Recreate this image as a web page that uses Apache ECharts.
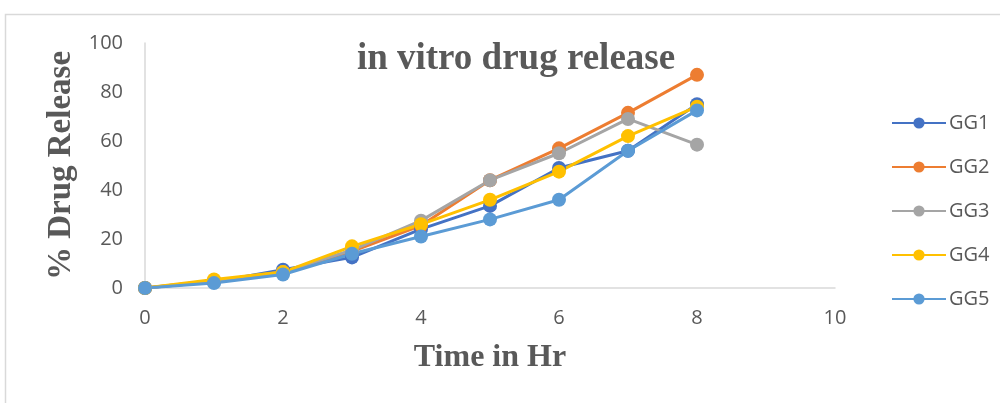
<!DOCTYPE html>
<html>
<head>
<meta charset="utf-8">
<script src="https://cdn.jsdelivr.net/npm/echarts@6/dist/echarts.min.js"></script>
<style>
  html, body { margin: 0; padding: 0; background: #fff; }
  #chart { width: 1000px; height: 403px; }
</style>
</head>
<body>
<div id="chart"></div>
<script>
// Sampling times (hours) and cumulative % release per formulation
const hours = [0, 1, 2, 3, 4, 5, 6, 7, 8];
const GG1 = [0, 2.5, 7.5, 12.5, 24, 33.5, 49, 56, 75];
const GG2 = [0, 3, 6.5, 15, 25.5, 44, 57, 71.5, 87];
const GG3 = [0, 3, 6.5, 15.5, 27.5, 44, 55, 69, 58.5];
const GG4 = [0, 3.5, 6.5, 17, 26, 36, 47.5, 62, 74];
const GG5 = [0, 2, 5.5, 14, 21, 28, 36, 56, 72.5];
const seriesNames = ['GG1', 'GG2', 'GG3', 'GG4', 'GG5'];
const seriesValues = [GG1, GG2, GG3, GG4, GG5];
const colors = ['#4472C4', '#ED7D31', '#A5A5A5', '#FFC000', '#5B9BD5'];

const chart = echarts.init(document.getElementById('chart'));
const textGray = '#595959';
const serif = '"Liberation Serif", "Times New Roman", serif';
const sans = '"Open Sans", "Liberation Sans", sans-serif';

chart.setOption({
  animation: false,
  color: colors,
  title: {
    text: 'in vitro drug release',
    left: 511,
    top: 36,
    textAlign: 'center',
    textStyle: { fontFamily: serif, fontWeight: 'bold', fontSize: 37, color: textGray }
  },
  graphic: [{
    type: 'rect',
    shape: { x: 5.5, y: 14.5, width: 1100, height: 500 },
    style: { fill: 'none', stroke: '#d9d9d9', lineWidth: 1.5 },
    silent: true,
    z: -1
  }],
  legend: {
    orient: 'vertical',
    left: 886,
    top: 106,
    itemGap: 20,
    itemWidth: 54,
    itemHeight: 14,
    textStyle: { fontFamily: sans, fontSize: 20, height: 24, lineHeight: 24, color: textGray, padding: [0, 0, 0, -2] },
    data: seriesNames
  },
  grid: { left: 145, right: 165, top: 43, bottom: 115, containLabel: false },
  xAxis: {
    type: 'value',
    min: 0, max: 10, interval: 2,
    name: 'Time in Hr',
    nameLocation: 'middle',
    nameGap: 54,
    nameTextStyle: { fontFamily: serif, fontWeight: 'bold', fontSize: 32, color: textGray },
    axisLine: { lineStyle: { color: '#d9d9d9', width: 1.5 } },
    axisTick: { show: false },
    splitLine: { show: false },
    axisLabel: { fontFamily: sans, fontSize: 20, color: textGray, margin: 20 }
  },
  yAxis: {
    type: 'value',
    min: 0, max: 100, interval: 20,
    name: '% Drug Release',
    nameLocation: 'middle',
    nameGap: 64,
    nameTextStyle: { fontFamily: serif, fontWeight: 'bold', fontSize: 33, color: textGray },
    axisLine: { show: true, lineStyle: { color: '#d9d9d9', width: 1.5 } },
    axisTick: { show: false },
    splitLine: { show: false },
    axisLabel: { fontFamily: sans, fontSize: 20, color: textGray, margin: 22 }
  },
  series: seriesNames.map((name, i) => ({
    name: name,
    type: 'line',
    data: hours.map((h, j) => [h, seriesValues[i][j]]),
    symbol: 'circle',
    symbolSize: 14,
    lineStyle: { width: 3 },
    itemStyle: { color: colors[i] }
  }))
});
</script>
</body>
</html>
